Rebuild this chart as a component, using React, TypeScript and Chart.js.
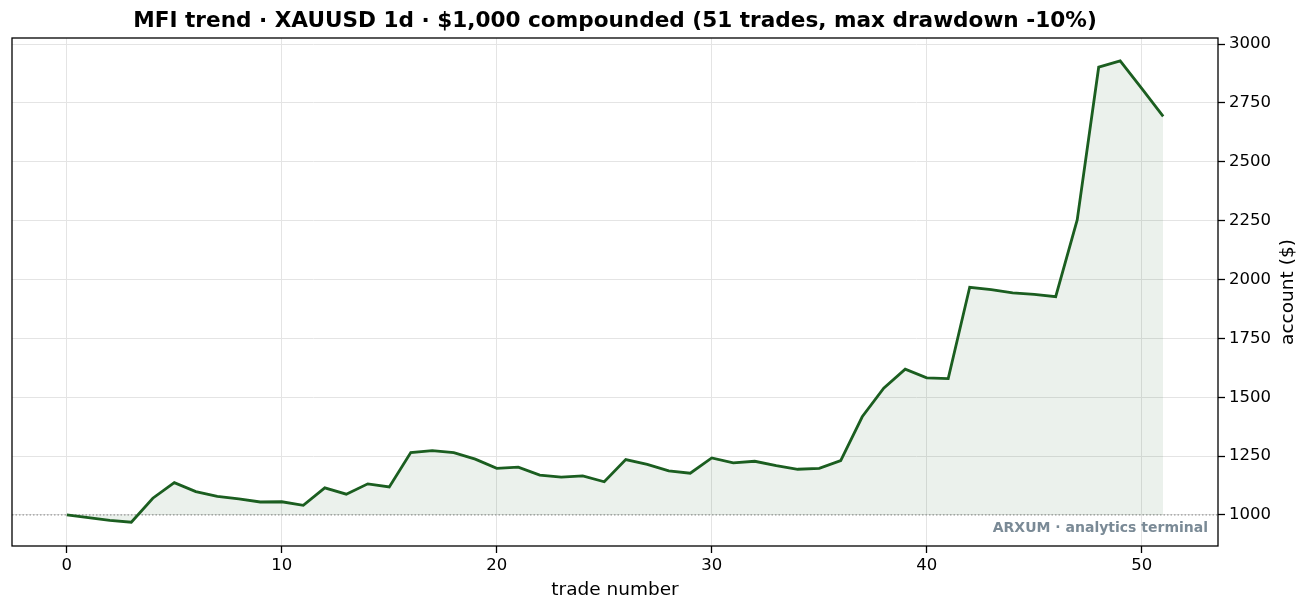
import React, { useEffect, useRef } from "react";
import { Chart, registerables } from "chart.js";

Chart.register(...registerables);

const titleText = "MFI trend · XAUUSD 1d · $1,000 compounded (51 trades, max drawdown -10%)";
const xAxisTitle = "trade number";
const yAxisTitle = "account ($)";
const watermark = "ARXUM · analytics terminal";

const equity: number[] = [
  1000, 989, 977, 969, 1071, 1137, 1099, 1079, 1068, 1055,
  1056, 1041, 1115, 1088, 1132, 1119, 1265, 1273, 1265, 1237,
  1198, 1203, 1169, 1161, 1166, 1141, 1235, 1215, 1187, 1177,
  1242, 1221, 1228, 1209, 1194, 1198, 1231, 1417, 1538, 1619,
  1582, 1579, 1967, 1957, 1943, 1937, 1927, 2253, 2902, 2929,
  2812, 2693,
];
const tradeNumbers: number[] = equity.map((_, i) => i);
const xTicks: number[] = [0, 10, 20, 30, 40, 50];
const yTicks: number[] = [1000, 1250, 1500, 1750, 2000, 2250, 2500, 2750, 3000];
const startBalance = 1000;

const FONT = "'DejaVu Sans', 'Liberation Sans', sans-serif";

const decorPlugin = {
  id: "decor",
  beforeDatasetsDraw(chart: any) {
    const { ctx, chartArea, scales } = chart;
    const y = scales.y.getPixelForValue(startBalance);
    ctx.save();
    ctx.strokeStyle = "#9a9a9a";
    ctx.lineWidth = 1.2;
    ctx.setLineDash([1.5, 2]);
    ctx.beginPath();
    ctx.moveTo(chartArea.left, y);
    ctx.lineTo(chartArea.right, y);
    ctx.stroke();
    ctx.restore();
  },
  afterDatasetsDraw(chart: any) {
    const { ctx, chartArea } = chart;
    ctx.save();
    ctx.fillStyle = "#7a8a96";
    ctx.font = `bold 14px ${FONT}`;
    ctx.textAlign = "right";
    ctx.textBaseline = "alphabetic";
    ctx.fillText(watermark, chartArea.right - 10, chartArea.bottom - 14);
    ctx.restore();
  },
  afterDraw(chart: any) {
    const { ctx, chartArea } = chart;
    ctx.save();
    ctx.strokeStyle = "#000";
    ctx.lineWidth = 1.3;
    ctx.strokeRect(chartArea.left, chartArea.top, chartArea.right - chartArea.left, chartArea.bottom - chartArea.top);
    ctx.fillStyle = "#000";
    ctx.font = `bold 21.6px ${FONT}`;
    ctx.textAlign = "center";
    ctx.textBaseline = "middle";
    ctx.fillText(titleText, (chartArea.left + chartArea.right) / 2, 21);
    ctx.font = `18.5px ${FONT}`;
    ctx.fillText(xAxisTitle, (chartArea.left + chartArea.right) / 2, 590);
    ctx.translate(1288, (chartArea.top + chartArea.bottom) / 2);
    ctx.rotate(-Math.PI / 2);
    ctx.fillText(yAxisTitle, 0, 0);
    ctx.restore();
  },
};

export default function App() {
  const canvasRef = useRef<HTMLCanvasElement | null>(null);

  useEffect(() => {
    const canvas = canvasRef.current;
    if (!canvas) return;
    const chart = new Chart(canvas, {
      type: "line",
      data: {
        datasets: [
          {
            data: tradeNumbers.map((x, i) => ({ x, y: equity[i] })),
            borderColor: "#1b5e20",
            borderWidth: 2.8,
            backgroundColor: "rgba(27,94,32,0.085)",
            fill: { value: startBalance },
            pointRadius: 0,
            tension: 0,
          },
        ],
      },
      options: {
        animation: false,
        responsive: false,
        maintainAspectRatio: false,
        devicePixelRatio: 1,
        layout: { padding: { left: 12, top: 38, right: 0, bottom: 0 } },
        plugins: {
          legend: { display: false },
          tooltip: { enabled: false },
          title: { display: false },
        },
        scales: {
          x: {
            type: "linear",
            min: -2.55,
            max: 53.55,
            afterBuildTicks: (scale: any) => {
              scale.ticks = xTicks.map((v) => ({ value: v }));
            },
            afterFit: (scale: any) => {
              scale.height = 66;
            },
            grid: {
              color: "#e4e4e4",
              lineWidth: 1,
              drawTicks: true,
              tickLength: 7,
              tickColor: "#000",
              tickWidth: 1.3,
            },
            border: { display: false },
            ticks: {
              font: { family: FONT, size: 16.5 },
              color: "#000",
              padding: 3,
              maxRotation: 0,
            },
          },
          y: {
            type: "linear",
            position: "right",
            min: 868,
            max: 3026,
            afterBuildTicks: (scale: any) => {
              scale.ticks = yTicks.map((v) => ({ value: v }));
            },
            afterFit: (scale: any) => {
              scale.width = 90;
            },
            grid: {
              color: "#e4e4e4",
              lineWidth: 1,
              drawTicks: true,
              tickLength: 7,
              tickColor: "#000",
              tickWidth: 1.3,
            },
            border: { display: false },
            ticks: {
              font: { family: FONT, size: 16.5 },
              color: "#000",
              padding: 4,
              callback: (v: any) => String(v),
            },
          },
        },
      },
      plugins: [decorPlugin],
    });
    return () => chart.destroy();
  }, []);

  return (
    <div style={{ position: "absolute", left: 0, top: 0, width: 1308, height: 612, background: "#fff" }}>
      <canvas ref={canvasRef} width={1308} height={612} style={{ width: 1308, height: 612, display: "block" }} />
    </div>
  );
}
